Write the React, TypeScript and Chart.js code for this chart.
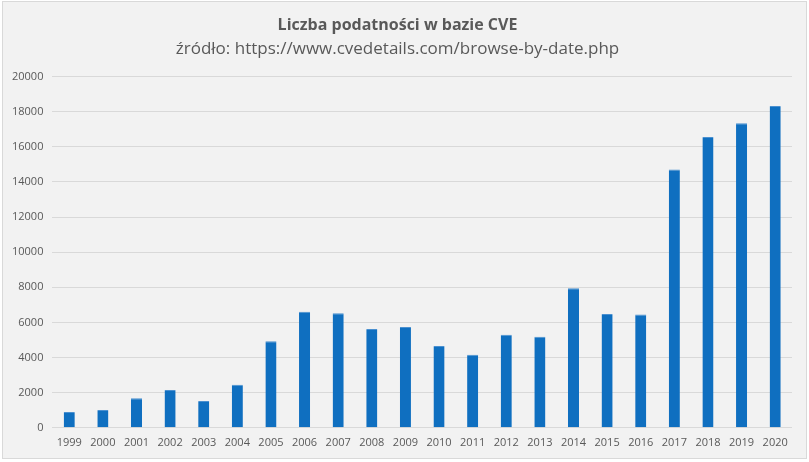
import React, { useEffect, useRef } from "react";
import { Chart, registerables } from "chart.js";

Chart.register(...registerables);

const years = ["1999","2000","2001","2002","2003","2004","2005","2006","2007","2008","2009","2010","2011","2012","2013","2014","2015","2016","2017","2018","2019","2020"];
const cveCounts = [894,1020,1677,2156,1527,2451,4935,6610,6520,5632,5736,4652,4155,5297,5191,7946,6480,6447,14714,16557,17344,18325];
const titleText = "Liczba podatności w bazie CVE";
const subtitleText = "źródło: https://www.cvedetails.com/browse-by-date.php";

export default function App() {
  const ref = useRef<HTMLCanvasElement>(null);
  useEffect(() => {
    const chart = new Chart(ref.current!, {
      type: "bar",
      data: {
        labels: years,
        datasets: [{
          data: cveCounts,
          backgroundColor: "#0f6fc0",
          borderColor: "#4a90d0",
          borderWidth: { top: 1, left: 0, right: 0, bottom: 0 } as any,
          categoryPercentage: 1,
          barPercentage: 0.33,
        }],
      },
      options: {
        animation: false,
        responsive: false,
        maintainAspectRatio: false,
        layout: { padding: { left: 0, right: 14, top: 4, bottom: 9 } },
        plugins: {
          legend: { display: false },
          tooltip: { enabled: false },
          title: {
            display: true,
            text: titleText,
            color: "#595959",
            font: { family: "Open Sans", size: 16, weight: "bold" },
            padding: { top: 10, bottom: 2 },
          },
          subtitle: {
            display: true,
            text: subtitleText,
            color: "#595959",
            font: { family: "Open Sans", size: 17 },
            padding: { top: 2, bottom: 17 },
          },
        },
        scales: {
          x: {
            grid: { display: false },
            border: { display: false },
            ticks: { color: "#595959", font: { family: "Open Sans", size: 11 }, maxRotation: 0, autoSkip: false, padding: 0 },
          },
          y: {
            min: 0,
            max: 20000,
            ticks: {
              stepSize: 2000,
              color: "#595959",
              font: { family: "Open Sans", size: 11 },
              padding: 9,
              callback: (v: any) => String(v),
            },
            grid: { color: "#d9d9d9", drawTicks: false },
            border: { display: false },
          },
        },
      },
    });
    return () => chart.destroy();
  }, []);
  return (
    <div style={{ position: "absolute", left: 0, top: 0, width: 809, height: 462, background: "#ffffff" }}>
      <div style={{ position: "absolute", left: 2, top: 1, width: 803, height: 456, border: "1px solid #d9d9d9", background: "#f2f2f2" }}>
        <canvas ref={ref} width={803} height={456} style={{ display: "block" }} />
      </div>
    </div>
  );
}
